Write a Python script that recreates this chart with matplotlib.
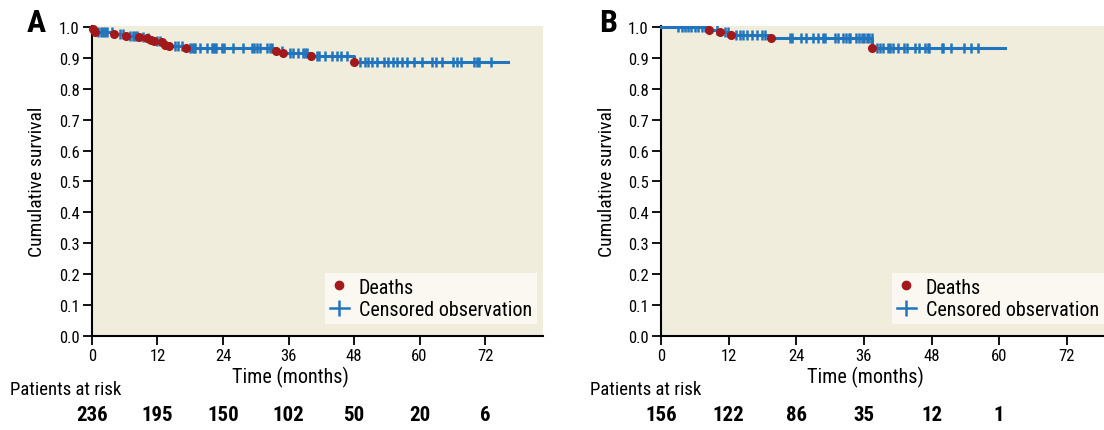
import numpy as np
import matplotlib.pyplot as plt
from matplotlib.lines import Line2D

plt.rcParams['font.family'] = ['Roboto Condensed', 'Archivo Narrow', 'Asap Condensed', 'DejaVu Sans']

# panel A: death times (months) and survival after each death
deaths_a_t = [0.1, 0.55, 4.1, 6.3, 8.7, 10.0, 10.75, 11.4, 12.8, 13.4, 14.2, 17.2, 33.7, 35.0, 40.1, 48.0]
deaths_a_s = [0.994, 0.985, 0.977, 0.972, 0.967, 0.964, 0.958, 0.954, 0.950, 0.943, 0.937, 0.932, 0.923, 0.916, 0.905, 0.887]
end_a = 76.2
censor_a = [1.16, 1.6, 2.1, 2.4, 2.7, 3.6, 5.1, 5.6, 7.0, 7.5, 7.9, 8.3, 9.4, 10.3, 12.0, 12.5,
            15.2, 15.8, 16.4, 18.0, 18.3, 18.6, 18.9, 19.8, 21.0, 21.9, 22.2, 22.5, 22.8, 23.8,
            24.1, 25.9, 27.7, 29.3, 29.6, 30.2, 30.8, 32.0, 32.6, 32.9, 34.75, 36.3, 36.9, 37.8,
            38.7, 39.0, 39.3, 41.2, 41.5, 42.7, 43.9, 44.8, 45.7, 46.7, 49.1, 50.0, 50.6, 51.2,
            52.2, 53.4, 54.3, 55.2, 55.8, 56.7, 57.7, 58.9, 60.4, 62.2, 63.0, 64.2, 66.1, 66.8,
            67.5, 70.0, 70.5, 70.9, 73.0]
risk_a = [236, 195, 150, 102, 50, 20, 6]

# panel B
deaths_b_t = [8.6, 10.5, 12.4, 19.5, 37.5]
deaths_b_s = [0.991, 0.983, 0.974, 0.963, 0.932]
end_b = 61.1
censor_b = [3.1, 3.7, 4.3, 4.8, 5.4, 6.0, 6.6, 7.2, 7.8, 9.9, 11.3, 11.9, 13.3, 14.0, 14.6, 15.2,
            16.1, 17.0, 17.9, 18.4, 22.9, 23.2, 24.9, 25.8, 27.0, 27.9, 28.8, 29.1, 30.9, 31.4,
            32.3, 32.9, 33.4, 33.6, 34.6, 35.2, 35.6, 36.0, 36.5, 36.9, 37.4, 38.3, 38.8, 39.4,
            40.3, 40.6, 41.1, 42.1, 43.1, 43.6, 45.0, 45.7, 46.8, 47.4, 47.6, 49.8, 50.1, 51.4,
            53.8, 55.0, 56.2]
risk_b = [156, 122, 86, 35, 12, 1]

ticks = [0, 12, 24, 36, 48, 60, 72]
bg = '#f1eddc'
blue = '#2075bc'
red = '#a3181a'

fig = plt.figure(figsize=(11.04, 4.31), dpi=100)
ax_a = fig.add_axes([0.0833, 0.2181, 0.4085, 0.7193])
ax_b = fig.add_axes([0.5987, 0.2181, 0.4013, 0.7193])


def draw(ax, dt, ds, end, cens, risk, xmax, letter, letter_x, risk_label_x, leg_x):
    ax.set_facecolor(bg)
    t = [0] + dt + [end]
    s = [1.0] + ds + [ds[-1]]
    ax.step(t, s, where='post', color=blue, lw=2.2, clip_on=False, zorder=3)
    idx = np.searchsorted(dt, cens, side='right')
    lev = np.array([1.0] + ds)[idx]
    ax.plot(cens, lev, ls='none', marker='|', ms=7.5, mew=1.8, color=blue, zorder=4)
    ax.plot(dt, ds, ls='none', marker='o', ms=5.5, color=red, mec=red, zorder=5, clip_on=False)
    ax.set_xlim(0, xmax)
    ax.set_ylim(0, 1.003)
    ax.set_xticks(ticks)
    ax.set_yticks(np.arange(0, 1.01, 0.1))
    ax.set_yticklabels([f'{v:.1f}' for v in np.arange(0, 1.01, 0.1)])
    for sp in ['top', 'right']:
        ax.spines[sp].set_visible(False)
    for sp in ['left', 'bottom']:
        ax.spines[sp].set_linewidth(1.5)
    ax.tick_params(length=6.5, width=1.3, labelsize=12, direction='out', pad=2.5)
    ax.set_ylabel('Cumulative survival', fontsize=14)
    ax.yaxis.set_label_coords(-0.102, 0.5)
    tr = ax.get_xaxis_transform()
    ax.text(36.3, -0.129, 'Time (months)', transform=tr, ha='center', va='center', fontsize=14.5)
    for x, r in zip(ticks, risk):
        ax.text(x, -0.252, str(r), transform=tr, ha='center', va='center',
                fontsize=15, fontweight='bold')
    fig.text(risk_label_x, 1 - 390 / 431, 'Patients at risk', ha='left', va='center', fontsize=13.5)
    fig.text(letter_x, 1 - 23 / 431, letter, ha='left', va='center', fontsize=23, fontweight='bold')
    handles = [Line2D([], [], ls='none', marker='o', ms=6, color=red),
               Line2D([], [], color=blue, lw=1.8, marker='|', ms=11, mew=1.8)]
    ax.legend(handles, ['Deaths', 'Censored observation'], loc='lower right',
              bbox_to_anchor=(leg_x, 0.04), fontsize=14.5,
              frameon=True, fancybox=False, framealpha=1, facecolor='#faf8f1',
              edgecolor='none', handlelength=0.95, handletextpad=0.5,
              borderaxespad=0, borderpad=0.25, labelspacing=0.15)


draw(ax_a, deaths_a_t, deaths_a_s, end_a, censor_a, risk_a, 82.6, 'A', 0.024, 0.009, 0.987)
draw(ax_b, deaths_b_t, deaths_b_s, end_b, censor_b, risk_b, 78.6, 'B', 0.543, 0.534, 1.0)

fig.savefig('out.png', dpi=100)
